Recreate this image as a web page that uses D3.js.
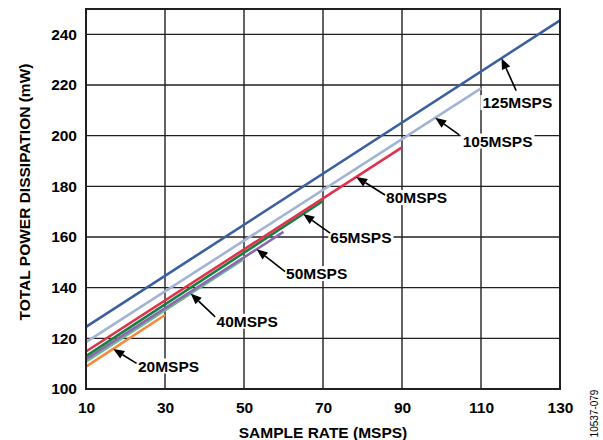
<!DOCTYPE html>
<html>
<head>
<meta charset="utf-8">
<script src="https://cdn.jsdelivr.net/npm/d3@7"></script>
<style>
  html, body { margin: 0; padding: 0; background: #fff; }
  svg { display: block; }
  text { font-family: "Liberation Sans", Arial, Helvetica, sans-serif; }
</style>
</head>
<body>
<svg id="chart" width="603" height="440"></svg>
<script>
// Total power dissipation vs. sample rate, one trace per speed grade
const seriesNames = ["20MSPS", "40MSPS", "50MSPS", "65MSPS", "80MSPS", "105MSPS", "125MSPS"];
const sampleRates = [
  [10, 30],
  [10, 50],
  [10, 60],
  [10, 70],
  [10, 90],
  [10, 110],
  [10, 130]
];
const powerValues = [
  [108.8, 129.2],
  [110.8, 151.4],
  [111.8, 162.0],
  [113.0, 174.2],
  [114.8, 195.4],
  [118.5, 218.7],
  [124.5, 245.5]
];
const xTicks = [10, 30, 50, 70, 90, 110, 130];
const yTicks = [100, 120, 140, 160, 180, 200, 220, 240];

// Callout placement: where the arrow touches its trace (MSPS),
// and label centre / arrow tail in chart units.
const calloutTarget = [16.9, 36.5, 53.2, 65.0, 78.4, 98.4, 115.2];
const calloutLabel = [[30.9, 109.1], [50.8, 126.8], [68.4, 145.6], [79.6, 159.8], [93.7, 175.6], [114.2, 197.9], [119.2, 213.1]];
const calloutTail = [[22.8, 110.1], [42.7, 128.5], [60.4, 146.3], [71.8, 161.5], [85.7, 176.6], [104.5, 200.3], [118.9, 217.8]];

const colors = ["#f58a3a", "#6dba8e", "#8c67b4", "#16813f", "#e0314f", "#a2b4d5", "#3b5f9f"];

const svg = d3.select("#chart");
const margin = { left: 86, right: 43, top: 9, bottom: 51 };
const W = 603, H = 440;
const x = d3.scaleLinear().domain([10, 130]).range([margin.left, W - margin.right]);
const y = d3.scaleLinear().domain([100, 250]).range([H - margin.bottom, margin.top]);

const FONT = "15.5px";
const ink = "#231f20";

// grid
const grid = svg.append("g");
grid.selectAll("line.v").data(xTicks.slice(1, -1)).join("line")
  .attr("x1", d => x(d)).attr("x2", d => x(d))
  .attr("y1", y(250)).attr("y2", y(100))
  .attr("stroke", ink).attr("stroke-width", 1.4);
grid.selectAll("line.h").data(yTicks.slice(1)).join("line")
  .attr("x1", x(10)).attr("x2", x(130))
  .attr("y1", d => y(d)).attr("y2", d => y(d))
  .attr("stroke", ink).attr("stroke-width", 1.4);

// traces
const line = d3.line().x(d => x(d[0])).y(d => y(d[1]));
const traces = seriesNames.map((name, i) => ({
  name, color: colors[i],
  pts: sampleRates[i].map((r, j) => [r, powerValues[i][j]])
}));
svg.append("g").selectAll("path").data(traces).join("path")
  .attr("d", d => line(d.pts))
  .attr("fill", "none")
  .attr("stroke", d => d.color)
  .attr("stroke-width", 2.6)
  .attr("stroke-linecap", "butt");

// frame
svg.append("rect")
  .attr("x", x(10)).attr("y", y(250))
  .attr("width", x(130) - x(10)).attr("height", y(100) - y(250))
  .attr("fill", "none").attr("stroke", ink).attr("stroke-width", 2);

// axes (labels only; the grid and frame carry the lines)
const xAxis = svg.append("g")
  .attr("transform", `translate(0,${y(100)})`)
  .call(d3.axisBottom(x).tickValues(xTicks).tickSize(0).tickPadding(13).tickFormat(d3.format("d")));
const yAxis = svg.append("g")
  .attr("transform", `translate(${x(10)},0)`)
  .call(d3.axisLeft(y).tickValues(yTicks).tickSize(0).tickPadding(9).tickFormat(d3.format("d")));
[xAxis, yAxis].forEach(a => {
  a.select(".domain").remove();
  a.selectAll("text")
    .attr("font-family", "Liberation Sans, Arial, sans-serif")
    .attr("font-size", FONT).attr("font-weight", "bold").attr("fill", "#000");
});

// axis titles
svg.append("text")
  .attr("x", (x(10) + x(130)) / 2).attr("y", 438)
  .attr("text-anchor", "middle")
  .attr("font-size", FONT).attr("font-weight", "bold").attr("fill", "#000")
  .text("SAMPLE RATE (MSPS)");
svg.append("text")
  .attr("transform", "translate(30,192) rotate(-90)")
  .attr("text-anchor", "middle")
  .attr("font-size", FONT).attr("font-weight", "bold").attr("fill", "#000")
  .text("TOTAL POWER DISSIPATION (mW)");

// figure number
svg.append("text")
  .attr("transform", "translate(598,413.5) rotate(-90)")
  .attr("text-anchor", "middle")
  .attr("font-size", "10px").attr("fill", "#000")
  .text("10537-079");

// callouts
function valueAt(pts, r) {
  const [a, b] = pts;
  return a[1] + (b[1] - a[1]) * (r - a[0]) / (b[0] - a[0]);
}
const callouts = svg.append("g");
traces.forEach((t, i) => {
  const g = callouts.append("g");
  const [lx, ly] = calloutLabel[i];
  const label = g.append("text")
    .attr("x", x(lx)).attr("y", y(ly))
    .attr("dy", "0.36em")
    .attr("text-anchor", "middle")
    .attr("font-size", FONT).attr("font-weight", "bold").attr("fill", "#000")
    .text(t.name);
  const bb = label.node().getBBox();
  g.insert("rect", "text")
    .attr("x", bb.x - 2).attr("y", bb.y + 1)
    .attr("width", bb.width + 4).attr("height", bb.height - 2)
    .attr("fill", "#fff");

  const hx = x(calloutTarget[i]), hy = y(valueAt(t.pts, calloutTarget[i]));
  const tx = x(calloutTail[i][0]), ty = y(calloutTail[i][1]);
  const ang = Math.atan2(hy - ty, hx - tx);
  const len = 11, half = 4.5;
  const bx = hx - len * Math.cos(ang), by = hy - len * Math.sin(ang);
  g.append("line")
    .attr("x1", tx).attr("y1", ty).attr("x2", bx).attr("y2", by)
    .attr("stroke", "#000").attr("stroke-width", 1.6);
  g.append("path")
    .attr("d", `M${hx},${hy}L${bx - half * Math.sin(ang)},${by + half * Math.cos(ang)}L${bx + half * Math.sin(ang)},${by - half * Math.cos(ang)}Z`)
    .attr("fill", "#000");
});
</script>
</body>
</html>
